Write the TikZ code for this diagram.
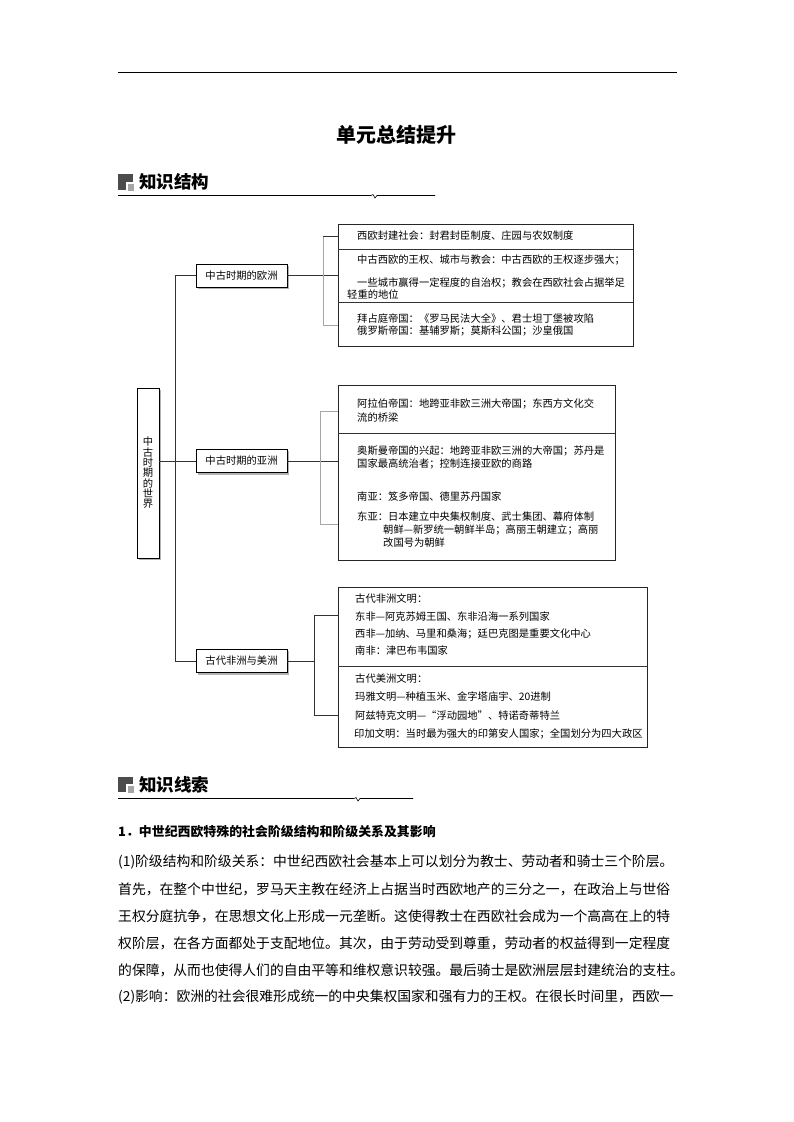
\documentclass[tikz,border=0pt]{standalone}
\usepackage{fontspec}
\setmainfont{Noto Sans CJK SC}
\XeTeXlinebreaklocale "zh"
\XeTeXlinebreakskip=0pt plus 2pt minus 0.6pt
\newcommand{\fs}[1]{\fontsize{#1}{#1}\selectfont}
\begin{document}
\begin{tikzpicture}[x=1pt,y=-1pt,
  every node/.style={inner sep=0pt},
  txt/.style={anchor=west,font=\fs{10.3}},
  midbox/.style={draw=black,line width=0.7pt,fill=white,minimum width=91pt,minimum height=23pt,font=\fs{10.3}},
  grp/.style={draw=black!85,line width=0.8pt,anchor=north west},
  conn/.style={draw=black!80,line width=0.7pt},
  faint/.style={draw=black!35,line width=0.7pt},
  body/.style={anchor=west,font=\fs{13.8}},
  hdr/.style={anchor=west,font=\fs{17.5}\bfseries}]
\useasboundingbox[fill=white] (0,0) rectangle (793,1122);
% top rule
\draw[line width=0.6pt] (118,72) -- (677,72);
\node[font=\fs{20}\bfseries] (title) at (396,135) {单元总结提升};
% header 1
\fill[black!70] (118,174) rectangle (133,190);
\fill[white] (126,182) rectangle (134.5,191.5);
\fill[black!35] (127.5,183.5) rectangle (134,191);
\node[hdr] (h1) at (139,182) {知识结构};
\draw[line width=0.6pt] (118,195.5) -- (371,195.5) -- (373,194.5) -- (375,198) -- (377,195.5) -- (435,195.5);
% header 2
\fill[black!70] (118,777) rectangle (133,792);
\fill[white] (126,784) rectangle (134.5,793.5);
\fill[black!35] (127.5,785.5) rectangle (134,793);
\node[hdr] (h2) at (139,785) {知识线索};
\draw[line width=0.6pt] (118,798.5) -- (354,798.5) -- (356,797.5) -- (358,801) -- (360,798.5) -- (413,798.5);

% ---------------- diagram ----------------
% shadows
\fill[black!30] (138.5,389.5) rectangle (160.5,559.5);
\fill[black!30] (197.5,265.5) rectangle (288.5,288.5);
\fill[black!30] (197.5,450.5) rectangle (288.5,474.5);
\fill[black!30] (197.5,650.5) rectangle (288.5,674.5);
\node[draw=black,line width=0.7pt,fill=white,minimum width=22pt,minimum height=170pt,align=center,font=\fs{10.3}] (root) at (148,473)
  {\baselineskip=10.5pt 中\\古\\时\\期\\的\\世\\界};
\node[midbox] (b1) at (241.5,275.5) {中古时期的欧洲};
\node[midbox] (b2) at (241.5,461) {中古时期的亚洲};
\node[midbox] (b3) at (241.5,661) {古代非洲与美洲};

% trunk
\coordinate (tt) at (175,275.5);
\coordinate (tb) at (175,661);
\draw[conn] (b1.west) -- (tt) -- (tb) -- (b3.west);
\draw[conn] (root.east |- b2.west) -- (b2.west);

% group 1
\node[grp,minimum width=295pt,minimum height=122pt] (g1) at (338,224) {};
\draw[line width=0.6pt,black!80] (338,249) -- (633,249);
\draw[line width=0.6pt,black!80] (338,302) -- (633,302);
\draw[conn] (b1.east) -- (b1.east -| g1.west);
\coordinate (k1t) at (323,236);
\coordinate (k1b) at (323,325);
\draw[faint] (k1t) -- (k1b);
\draw[conn] (k1t) -- (k1t -| g1.west);
\draw[faint] (k1b) -- (k1b -| g1.west);
\node[txt] (t11) at (357,236) {西欧封建社会：封君封臣制度、庄园与农奴制度};
\node[txt] (t12) at (357,260) {中古西欧的王权、城市与教会：中古西欧的王权逐步强大；};
\node[txt] (t13) at (357,283) {一些城市赢得一定程度的自治权；教会在西欧社会占据举足};
\node[txt] (t14) at (347,295) {轻重的地位};
\node[txt] (t15) at (357,319) {拜占庭帝国：《罗马民法大全》、君士坦丁堡被攻陷};
\node[txt] (t16) at (357,331) {俄罗斯帝国：基辅罗斯；莫斯科公国；沙皇俄国};

% group 2
\node[grp,minimum width=277pt,minimum height=175pt] (g2) at (338,385) {};
\draw[line width=0.6pt,black!80] (338,433) -- (615,433);
\draw[conn] (b2.east) -- (b2.east -| g2.west);
\coordinate (k2t) at (320,411);
\coordinate (k2b) at (320,524);
\draw[faint] (k2t) -- (k2b);
\draw[faint] (k2t) -- (k2t -| g2.west);
\draw[faint] (k2b) -- (k2b -| g2.west);
\node[txt] (t21) at (357,404) {阿拉伯帝国：地跨亚非欧三洲大帝国；东西方文化交};
\node[txt] (t22) at (357,418) {流的桥梁};
\node[txt] (t23) at (357,451) {奥斯曼帝国的兴起：地跨亚非欧三洲的大帝国；苏丹是};
\node[txt] (t24) at (357,464) {国家最高统治者；控制连接亚欧的商路};
\node[txt] (t25) at (357,497) {南亚：笈多帝国、德里苏丹国家};
\node[txt] (t26) at (357,517) {东亚：日本建立中央集权制度、武士集团、幕府体制};
\node[txt] (t27) at (383,530) {朝鲜—新罗统一朝鲜半岛；高丽王朝建立；高丽};
\node[txt] (t28) at (383,543) {改国号为朝鲜};

% group 3
\node[grp,minimum width=309pt,minimum height=160pt] (g3) at (338,587) {};
\draw[line width=0.6pt,black!80] (338,666) -- (647,666);
\coordinate (k3m) at (314,661);
\coordinate (k3t) at (314,615);
\coordinate (k3b) at (314,715);
\draw[conn] (b3.east) -- (k3m);
\draw[conn] (k3t) -- (k3b);
\draw[conn] (k3t) -- (k3t -| g3.west);
\draw[conn] (k3b) -- (k3b -| g3.west);
\node[txt] (t31) at (355,599) {古代非洲文明：};
\node[txt] (t32) at (355,617) {东非—阿克苏姆王国、东非沿海一系列国家};
\node[txt] (t33) at (355,634) {西非—加纳、马里和桑海；廷巴克图是重要文化中心};
\node[txt] (t34) at (355,651) {南非：津巴布韦国家};
\node[txt] (t35) at (355,679) {古代美洲文明：};
\node[txt] (t36) at (355,697) {玛雅文明—种植玉米、金字塔庙宇、20进制};
\node[txt] (t37) at (355,716) {阿兹特克文明—“浮动园地”、特诺奇蒂特兰};
\node[txt] (t38) at (354,734) {印加文明：当时最为强大的印第安人国家；全国划分为四大政区};

% ---------------- text ----------------
\node[anchor=west,font=\fs{12.9}\bfseries] (q1) at (118,832) {1．中世纪西欧特殊的社会阶级结构和阶级关系及其影响};
\node[body] (p1) at (118,862) {\makebox[559pt][s]{(1)阶级结构和阶级关系：中世纪西欧社会基本上可以划分为教士、劳动者和骑士三个阶层。}};
\node[body] (p2) at (118,889) {\makebox[559pt][s]{首先，在整个中世纪，罗马天主教在经济上占据当时西欧地产的三分之一，在政治上与世俗}};
\node[body] (p3) at (118,916) {\makebox[559pt][s]{王权分庭抗争，在思想文化上形成一元垄断。这使得教士在西欧社会成为一个高高在上的特}};
\node[body] (p4) at (118,943) {\makebox[559pt][s]{权阶层，在各方面都处于支配地位。其次，由于劳动受到尊重，劳动者的权益得到一定程度}};
\node[body] (p5) at (118,970) {\makebox[559pt][s]{的保障，从而也使得人们的自由平等和维权意识较强。最后骑士是欧洲层层封建统治的支柱。}};
\node[body] (p6) at (118,997) {\makebox[559pt][s]{(2)影响：欧洲的社会很难形成统一的中央集权国家和强有力的王权。在很长时间里，西欧一}};
\end{tikzpicture}
\end{document}
